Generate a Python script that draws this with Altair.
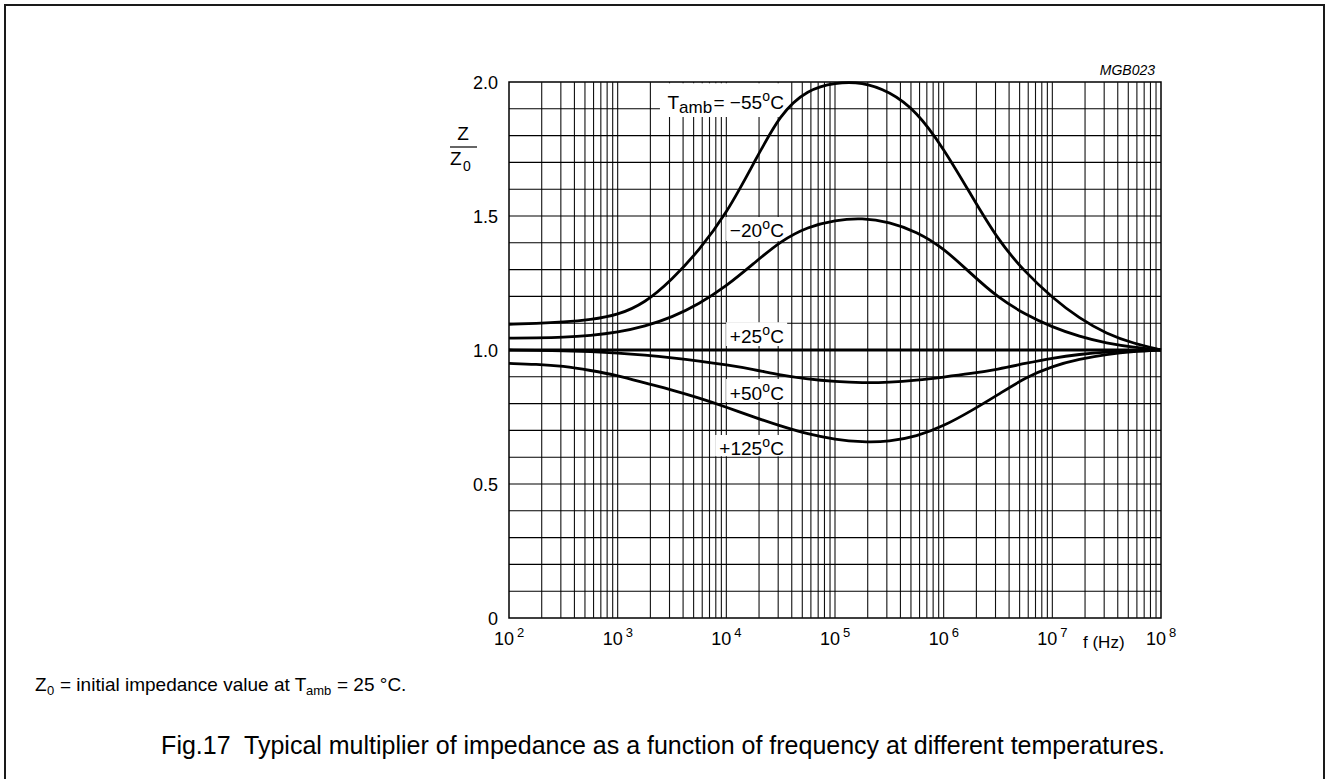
import altair as alt
import pandas as pd

FONT = "Liberation Sans"

# ---------------- data ----------------
# frequencies at quarter-decade steps, 10^2 ... 10^8 Hz
freq = [100, 178, 316, 562, 1000, 1780, 3160, 5620, 10000, 17800, 31600, 56200,
        100000, 178000, 316000, 562000, 1000000, 1780000, 3160000, 5620000,
        10000000, 17800000, 31600000, 56200000, 100000000]

z_m55 = [1.096, 1.099, 1.104, 1.113, 1.130, 1.175, 1.262, 1.372, 1.508, 1.695, 1.885, 1.972,
         1.998, 2.000, 1.965, 1.892, 1.752, 1.580, 1.410, 1.290, 1.195, 1.117, 1.060, 1.024, 1.0]
z_m20 = [1.044, 1.045, 1.047, 1.054, 1.066, 1.088, 1.122, 1.172, 1.238, 1.322, 1.407, 1.460,
         1.485, 1.493, 1.478, 1.442, 1.380, 1.285, 1.195, 1.133, 1.085, 1.050, 1.025, 1.010, 1.0]
z_p25 = [1.0] * 25
z_p50 = [1.000, 0.999, 0.997, 0.994, 0.989, 0.981, 0.971, 0.959, 0.945, 0.928, 0.906, 0.891,
         0.882, 0.877, 0.879, 0.887, 0.899, 0.912, 0.928, 0.950, 0.970, 0.984, 0.993, 0.998, 1.0]
z_p125 = [0.950, 0.947, 0.940, 0.924, 0.905, 0.877, 0.851, 0.821, 0.787, 0.750, 0.716, 0.686,
          0.666, 0.656, 0.658, 0.677, 0.716, 0.772, 0.833, 0.897, 0.940, 0.966, 0.984, 0.995, 1.0]

series_names = ["-55", "-20", "+25", "+50", "+125"]
series_z = [z_m55, z_m20, z_p25, z_p50, z_p125]

# curve labels
label_main = ["= \u221255", "\u221220", "+25", "+50", "+125"]
label_f = [34000, 34000, 34000, 34000, 34000]
label_z = [1.901, 1.422, 1.026, 0.813, 0.608]
box_f_lo = [2450, 9960, 9960, 9960, 7890]
box_f_hi = [36300, 36300, 36300, 36300, 36300]
box_z_lo = [1.869, 1.407, 1.015, 0.806, 0.604]
box_z_hi = [1.995, 1.496, 1.104, 0.892, 0.683]

# axis ticks / labels
x_decades = [100, 1000, 10000, 100000, 1000000, 10000000, 100000000]
x_exponents = ["2", "3", "4", "5", "6", "7", "8"]
x_grid = [k * d for d in x_decades[:-1] for k in range(2, 10)]
y_grid = [i / 10 for i in range(1, 20)]
y_label_values = [0, 0.5, 1.0, 1.5, 2.0]
y_label_texts = ["0", "0.5", "1.0", "1.5", "2.0"]

# ---------------- build tables ----------------
rows = []
for name, zs in zip(series_names, series_z):
    for f, z in zip(freq, zs):
        rows.append({"series": name, "f": f, "z": z})
curves = pd.DataFrame(rows)

labels = pd.DataFrame({"main": label_main, "f": label_f, "z": label_z,
                       "f1": box_f_lo, "f2": box_f_hi, "z1": box_z_lo, "z2": box_z_hi})
xt = pd.DataFrame({"f": x_decades, "exp": x_exponents})
xg = pd.DataFrame({"f": x_grid + x_decades[1:-1]})
yg = pd.DataFrame({"z": y_grid})
yl = pd.DataFrame({"z": y_label_values, "t": y_label_texts})
one = pd.DataFrame({"a": [0]})

W, H = 652, 536
XS = alt.Scale(type="log", domain=[100, 1e8], nice=False)
YS = alt.Scale(domain=[0, 2.0], nice=False, zero=False)

def X(field):
    return alt.X(field, scale=XS, axis=None)

def Y(field):
    return alt.Y(field, scale=YS, axis=None)

# grid
vgrid = alt.Chart(xg).mark_rule(color="#111111", strokeWidth=1.1).encode(
    x=X("f:Q"), y=alt.value(0), y2=alt.value(H))
hgrid = alt.Chart(yg).mark_rule(color="#000000", strokeWidth=1.1).encode(
    y=Y("z:Q"), x=alt.value(0), x2=alt.value(W))

# y tick labels
ylab = alt.Chart(yl).mark_text(align="right", baseline="middle", dx=-11, dy=2, font=FONT,
                               fontSize=18, color="black").encode(
    x=alt.value(0), y=Y("z:Q"), text="t:N")

# white boxes behind curve labels
boxes = alt.Chart(labels).mark_rect(color="white").encode(
    x=X("f1:Q"), x2="f2:Q", y=Y("z1:Q"), y2="z2:Q")

lines = alt.Chart(curves).mark_line(color="black", strokeWidth=2.8, interpolate="basis").encode(
    x=X("f:Q"), y=Y("z:Q"), detail="series:N")

def lab_layer(text, dx, dy, size, field=False, data=labels):
    enc = dict(x=X("f:Q"), y=Y("z:Q"))
    enc["text"] = alt.Text(text) if field else alt.value(text)
    return alt.Chart(data).mark_text(
        align="right", baseline="alphabetic", dx=dx, dy=dy, font=FONT,
        fontSize=size, color="black").encode(**enc)

lab_C = lab_layer("C", 0, 0, 19)
lab_o = lab_layer("o", -14, -8, 14)
lab_main = lab_layer("main:N", -22, 0, 19, field=True)
first_label = labels.iloc[[0]]
lab_amb = lab_layer("amb", -72, 4, 17, data=first_label)
lab_T = lab_layer("T", -105, 0, 19, data=first_label)

# x tick labels: 10 with superscript exponent
xt_base = alt.Chart(xt).mark_text(align="right", baseline="alphabetic", dx=5, font=FONT,
                                  fontSize=18, color="black").encode(
    x=X("f:Q"), y=alt.value(563), text=alt.value("10"))
xt_exp = alt.Chart(xt).mark_text(align="left", baseline="alphabetic", dx=8, font=FONT,
                                 fontSize=13, color="black").encode(
    x=X("f:Q"), y=alt.value(555), text="exp:N")

def txt(s, x, y, size, align="left", style="normal", color="black"):
    return alt.Chart(one).mark_text(align=align, baseline="alphabetic", font=FONT,
                                    fontSize=size, fontStyle=style, color=color).encode(
        x=alt.value(x), y=alt.value(y), text=alt.value(s))

fhz = txt("f (Hz)", 574, 566, 17)
mgb = txt("MGB023", 646, -7, 14, align="right", style="italic")

# y-axis title Z / Z0
yt_Z1 = txt("Z", -46, 58, 19, align="center")
yt_bar = alt.Chart(one).mark_rule(color="black", strokeWidth=1.2).encode(
    x=alt.value(-59), x2=alt.value(-32), y=alt.value(65))
yt_Z2 = txt("Z", -59, 83, 19)
yt_0 = txt("0", -46, 89, 14)

# footnote
fn1 = txt("Z", 35 - 509, 609, 19)
fn2 = txt("0", 47 - 509, 613, 13)
fn3 = txt("= initial impedance value at T", 60 - 509, 609, 19)
fn4 = txt("amb", 306 - 509, 613, 13)
fn5 = txt("= 25 \u00b0C.", 337 - 509, 609, 19)

caption = txt("Fig.17\u00a0 Typical multiplier of impedance as a function of frequency at different temperatures.",
              663 - 509, 672, 25, align="center")

frame = alt.Chart(one).mark_rect(fillOpacity=0, stroke="#1a1a1a", strokeWidth=2).encode(
    x=alt.value(5 - 509), x2=alt.value(1324 - 509), y=alt.value(5 - 82), y2=alt.value(760))

chart = alt.layer(
    vgrid, hgrid, boxes, lines, ylab, lab_C, lab_o, lab_main, lab_amb, lab_T, xt_base, xt_exp,
    fhz, mgb, yt_Z1, yt_bar, yt_Z2, yt_0, fn1, fn2, fn3, fn4, fn5, caption, frame
).properties(
    width=W, height=H,
    autosize=alt.AutoSizeParams(type="none"),
    padding={"left": 509, "top": 82, "right": 1326 - 509 - W, "bottom": 779 - 82 - H},
    background="white",
).configure_view(stroke="black", strokeWidth=1.5)

chart.save("out.html", embed_options={"renderer": "svg", "actions": False})
